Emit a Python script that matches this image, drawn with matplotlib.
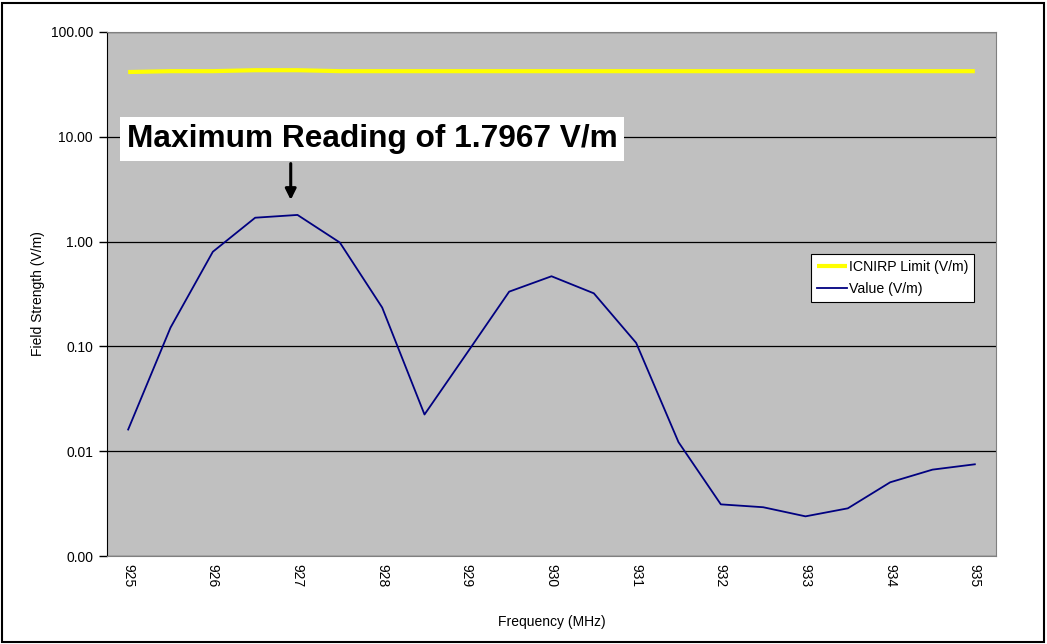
import matplotlib
matplotlib.use("Agg")
import matplotlib.pyplot as plt
from matplotlib.patches import Rectangle
from matplotlib.ticker import FixedLocator, FixedFormatter

# frecuencias (MHz), cada 0.5
frecuencias = [925.0, 925.5, 926.0, 926.5, 927.0, 927.5, 928.0, 928.5, 929.0, 929.5,
               930.0, 930.5, 931.0, 931.5, 932.0, 932.5, 933.0, 933.5, 934.0, 934.5, 935.0]

# limite ICNIRP (V/m)
limite_icnirp = [41.5, 42.3, 42.3, 43.2, 43.2, 42.3, 42.3, 42.3, 42.3, 42.3,
                 42.3, 42.3, 42.3, 42.3, 42.3, 42.3, 42.3, 42.3, 42.3, 42.3, 42.3]

# valor medido (V/m)
valores = [0.0161, 0.151, 0.80, 1.69, 1.7967, 0.98, 0.235, 0.0224, 0.086, 0.333,
           0.467, 0.321, 0.108, 0.0122, 0.00311, 0.00292, 0.00239, 0.00285, 0.00505, 0.00667, 0.0075]

y_ticks = [0.001, 0.01, 0.1, 1, 10, 100]
y_labels = ["0.00", "0.01", "0.10", "1.00", "10.00", "100.00"]
x_ticks = [925, 926, 927, 928, 929, 930, 931, 932, 933, 934, 935]

plt.rcParams['font.family'] = ['Liberation Sans', 'DejaVu Sans']

fig = plt.figure(figsize=(10.47, 6.44), dpi=100)
ax = fig.add_axes([107 / 1047, 1 - 556 / 644, 889 / 1047, 524 / 644])
ax.set_facecolor("#C0C0C0")

ax.plot(frecuencias, limite_icnirp, color="#FFFF00", lw=3, label="ICNIRP Limit (V/m)",
        solid_capstyle="butt")
ax.plot(frecuencias, valores, color="#000080", lw=1.3, label="Value (V/m)")

ax.set_yscale("log")
ax.set_ylim(0.001, 100)
ax.set_xlim(924.75, 935.25)
ax.yaxis.set_major_locator(FixedLocator(y_ticks))
ax.yaxis.set_major_formatter(FixedFormatter(y_labels))
ax.yaxis.set_minor_locator(FixedLocator([]))
ax.set_xticks(x_ticks)
ax.set_xticklabels([str(x) for x in x_ticks], rotation=-90)
ax.tick_params(axis="y", length=6, width=1, labelsize=10, pad=4)
ax.tick_params(axis="x", length=0, labelsize=10, pad=6)

ax.grid(axis="y", color="black", lw=0.9)
ax.set_axisbelow(True)
for lado in ["top", "right", "bottom"]:
    ax.spines[lado].set_color("#808080")
ax.spines["left"].set_color("black")

ax.set_xlabel("Frequency (MHz)", fontsize=10, labelpad=20)
ax.set_ylabel("Field Strength (V/m)", fontsize=10, labelpad=4)

# anotacion del maximo
ax.text(0.298, 0.796, "Maximum Reading of 1.7967 V/m", transform=ax.transAxes,
        ha="center", va="center", fontsize=22.8, fontweight="bold",
        bbox=dict(facecolor="white", edgecolor="none", pad=5))
ax.annotate("", xy=(926.92, 2.35), xytext=(926.92, 5.9),
            arrowprops=dict(arrowstyle="-|>", color="black", lw=2.2, mutation_scale=16))

leg = ax.legend(loc="upper left", bbox_to_anchor=(0.792, 0.576), fontsize=10.2,
                frameon=True, fancybox=False, framealpha=1, edgecolor="black",
                handlelength=2.1, handletextpad=0.2, borderpad=0.4, labelspacing=0.6,
                borderaxespad=0)
leg.get_frame().set_linewidth(0.8)

fig.patches.append(Rectangle((0.002, 0.003), 0.995, 0.993, transform=fig.transFigure,
                             fill=False, edgecolor="black", lw=1.5))

fig.savefig("out.png", dpi=100)
